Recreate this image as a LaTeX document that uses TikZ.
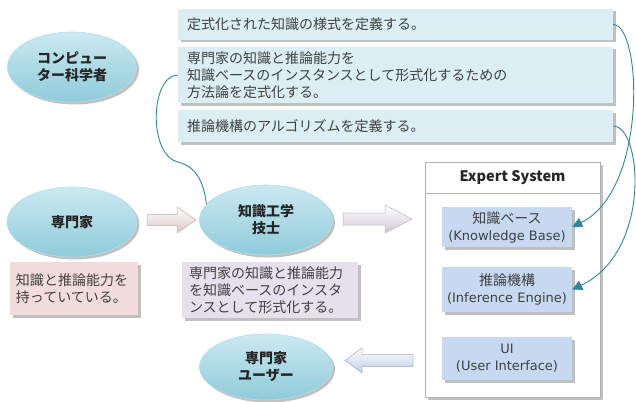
\documentclass[tikz,border=0pt]{standalone}
\usepackage{fontspec}
\setmainfont{Noto Sans CJK JP}
\newfontfamily\latinfont{DejaVu Sans}
\usetikzlibrary{shapes.geometric,shadows,arrows.meta,calc}
\definecolor{boxB}{HTML}{DAEEF3}
\definecolor{pinkF}{HTML}{F2DCDB}
\definecolor{lavF}{HTML}{E5E0EC}
\definecolor{kbF}{HTML}{C6D9F1}
\definecolor{ellT}{HTML}{CBE9F0}
\definecolor{ellB}{HTML}{8FCBDA}
\definecolor{ellD}{HTML}{B5DEE8}
\definecolor{teal}{HTML}{31859C}
\definecolor{txt}{HTML}{404040}
\newcommand{\lat}[1]{{\latinfont\fontsize{13pt}{17pt}\selectfont #1}}
\tikzset{
  shd/.style={drop shadow={shadow xshift=2.5pt,shadow yshift=-2.5pt,fill=black!45,opacity=.55}},
  ell/.style={ellipse,inner sep=0,top color=ellT,bottom color=ellB,draw=ellD,line width=.6pt,shd,
    align=center,font=\fontsize{14pt}{17pt}\selectfont\bfseries,text=black!85},
  tbox/.style={fill=boxB,shd,align=left,inner sep=0,text=txt},
  kbox/.style={fill=kbF,shd,align=center,inner sep=0,minimum width=130,text=txt},
  link/.style={draw=teal,line width=.9pt,-{Triangle[length=10pt,width=10pt]}},
  pinkarrow/.style={top color=white,bottom color=pinkF!90!black,draw=pinkF!80!black,line width=.5pt,line join=miter},
  lavarrow/.style={top color=white,bottom color=lavF!90!black,draw=lavF!80!black,line width=.5pt,line join=miter},
  bluearrow/.style={top color=white,bottom color=kbF!95!black,draw=kbF!80!black,line width=.5pt,line join=miter},
}
\begin{document}
\begin{tikzpicture}[x=1pt,y=-1pt,font=\fontsize{14pt}{17pt}\selectfont]
\useasboundingbox (0,0) rectangle (636,401);
% ellipses
\node[ell,minimum width=129,minimum height=70] (cs) at (72,67) {コンピュー\\ター科学者};
\node[ell,minimum width=130,minimum height=70] (ex) at (72,222) {専門家};
\node[ell,minimum width=133,minimum height=70] (ke) at (266,220) {知識工学\\技士};
\node[ell,minimum width=133,minimum height=66] (eu) at (266,367) {専門家\\ユーザー};
% top boxes
\node[tbox,minimum width=435,minimum height=31,text width=417] (b1) at (395.5,24.5) {定式化された知識の様式を定義する。};
\node[tbox,minimum width=435,minimum height=56,text width=417] (b2) at (395.5,75) {専門家の知識と推論能力を\\知識ベースのインスタンスとして形式化するための\\方法論を定式化する。};
\node[tbox,minimum width=435,minimum height=32,text width=417] (b3) at (395.5,126) {推論機構のアルゴリズムを定義する。};
% note boxes
\node[fill=pinkF,shd,align=left,inner sep=0,text=txt,minimum width=128,minimum height=53,text width=116] (pk) at (74,288.5) {知識と推論能力を\\持っていている。};
\node[fill=lavF,shd,align=left,inner sep=0,text=txt,minimum width=176,minimum height=56,text width=162] (lv) at (270,290) {専門家の知識と推論能力\\を知識ベースのインスタ\\ンスとして形式化する。};
% expert system
\node[draw=black!30,fill=white,shd,minimum width=175,minimum height=235,inner sep=0] (es) at (512.5,279.5) {};
\draw[black!30] ($(es.north west)+(0,31)$) -- ($(es.north east)+(0,31)$);
\node[font=\fontsize{14.5pt}{17pt}\selectfont\bfseries,text=black!85] (esh) at ($(es.north)+(0,15.5)$) {Expert System};
\node[kbox,minimum height=40] (kb) at (507,227) {知識ベース\\\lat{(Knowledge Base)}};
\node[kbox,minimum height=45] (ie) at (507,289.5) {推論機構\\\lat{(Inference Engine)}};
\node[kbox,minimum height=43] (ui) at (507,358.5) {\lat{UI}\\\lat{(User Interface)}};
% block arrows
\path[pinkarrow] (147,214.5) -- (177,214.5) -- (177,207) -- (196,220) -- (177,233) -- (177,225.5) -- (147,225.5) -- cycle;
\path[lavarrow] (343,213) -- (385,213) -- (385,205) -- (412,219) -- (385,233) -- (385,225) -- (343,225) -- cycle;
\path[bluearrow] (413,354.5) -- (362,354.5) -- (362,348) -- (345,360.5) -- (362,373) -- (362,366.5) -- (413,366.5) -- cycle;
% curved links
\draw[draw=teal,line width=.9pt] (b2.west) .. controls (150,76) and (148,155) .. (178,162)
  .. controls (198,167) and (204,185) .. (ke.165);
\draw[link] (b1.east) .. controls (642,25) and (648,190) .. (kb.east);
\draw[link] (b3.east) .. controls (642,126) and (652,252) .. (ie.east);
\end{tikzpicture}
\end{document}
